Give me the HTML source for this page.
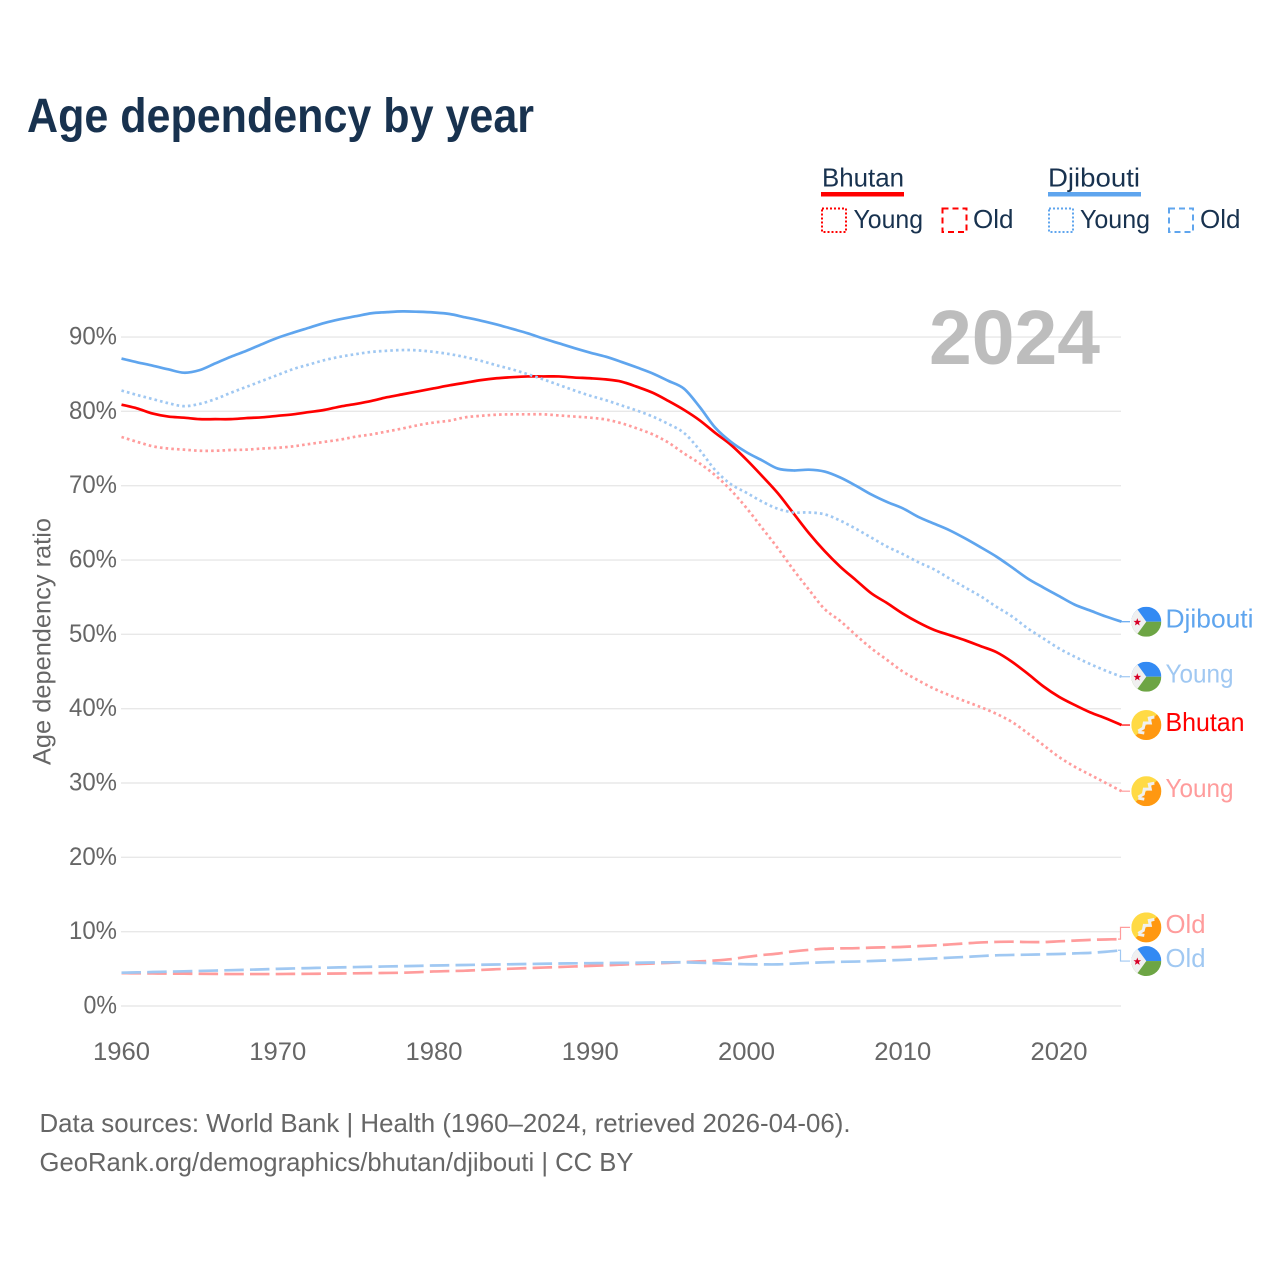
<!DOCTYPE html>
<html lang="en">
<head>
<meta charset="utf-8">
<title>Age dependency by year</title>
<style>
html,body{margin:0;padding:0;background:#fff;}
svg{display:block;font-family:"Liberation Sans",sans-serif;}
</style>
</head>
<body>
<svg id="chart" xmlns="http://www.w3.org/2000/svg" width="1280" height="1280" viewBox="0 0 1280 1280">
  <defs>
    <clipPath id="flag-clip"><circle cx="0" cy="0" r="15"/></clipPath>
    <g id="flag-djibouti" clip-path="url(#flag-clip)">
      <rect x="-15" y="-15" width="30" height="15" fill="#338af3"/>
      <rect x="-15" y="0" width="30" height="15" fill="#6da544"/>
      <polygon points="-16,-22 0,0 -16,22" fill="#f0f0f0"/>
      <polygon points="-9,-3.6 -8,-0.8 -5.2,-0.8 -7.4,1 -6.6,3.8 -9,2.2 -11.4,3.8 -10.6,1 -12.8,-0.8 -10,-0.8" fill="#d80027"/>
    </g>
    <g id="flag-bhutan" clip-path="url(#flag-clip)">
      <rect x="-15" y="-15" width="30" height="30" fill="#ffda44"/>
      <polygon points="15,-15 15,15 -15,15" fill="#ff9811"/>
      <path d="M8,-8 L3,-7 L4,-2 L-2,-2 L-3,3 L-8,6 M-8,7 L-2,8" fill="none" stroke="#f0f0f0" stroke-width="3"/>
    </g>
  </defs>

  <text x="27" y="132" font-size="48" font-weight="700" fill="#18324f" textLength="507" lengthAdjust="spacingAndGlyphs">Age dependency by year</text>

  <g id="grid"></g>
  <g id="y-axis"></g>
  <g id="x-axis"></g>

  <text transform="translate(50.5 765) rotate(-90)" font-size="25" fill="#666" textLength="247" lengthAdjust="spacingAndGlyphs">Age dependency ratio</text>

  <g id="series"></g>
  <g id="end-labels"></g>

  <text x="929" y="364" font-size="77" font-weight="700" fill="#bdbdbd" textLength="171" lengthAdjust="spacingAndGlyphs">2024</text>

  <g>
    <g>
      <text x="822" y="186.5" font-size="26" fill="#18324f" textLength="82" lengthAdjust="spacingAndGlyphs">Bhutan</text>
      <rect x="821" y="192" width="83" height="4.5" fill="#ff0000"/>
      <rect x="822" y="208.5" width="24" height="23.5" fill="none" stroke="#ff0000" stroke-width="2" stroke-dasharray="2 2"/>
      <text x="853.5" y="228" font-size="26" fill="#18324f" textLength="69.5" lengthAdjust="spacingAndGlyphs">Young</text>
      <rect x="942.5" y="208.5" width="24" height="23.5" fill="none" stroke="#ff0000" stroke-width="2" stroke-dasharray="6 4"/>
      <text x="973" y="228" font-size="26" fill="#18324f" textLength="40.5" lengthAdjust="spacingAndGlyphs">Old</text>
    </g>
    <g>
      <text x="1048" y="186.5" font-size="26" fill="#18324f" textLength="92" lengthAdjust="spacingAndGlyphs">Djibouti</text>
      <rect x="1048" y="192" width="93" height="4.5" fill="#5fa5ee"/>
      <rect x="1049" y="208.5" width="24" height="23.5" fill="none" stroke="#5fa5ee" stroke-width="2" stroke-dasharray="2 2"/>
      <text x="1080" y="228" font-size="26" fill="#18324f" textLength="70" lengthAdjust="spacingAndGlyphs">Young</text>
      <rect x="1169" y="208.5" width="24" height="23.5" fill="none" stroke="#5fa5ee" stroke-width="2" stroke-dasharray="6 4"/>
      <text x="1200" y="228" font-size="26" fill="#18324f" textLength="40.5" lengthAdjust="spacingAndGlyphs">Old</text>
    </g>
  </g>

  <text x="39.5" y="1132" font-size="26" fill="#666" textLength="811" lengthAdjust="spacingAndGlyphs">Data sources: World Bank | Health (1960–2024, retrieved 2026-04-06).</text>
  <text x="39.5" y="1171" font-size="26" fill="#666" textLength="594" lengthAdjust="spacingAndGlyphs">GeoRank.org/demographics/bhutan/djibouti | CC BY</text>
</svg>

<script>
const startYear = 1960;
const xTickYears = [1960, 1970, 1980, 1990, 2000, 2010, 2020];
const yTickValues = [0, 10, 20, 30, 40, 50, 60, 70, 80, 90];

const bhutanTotal = [
  80.9,80.4,79.7,79.3,79.15,78.95,78.95,78.95,79.1,79.2,
  79.4,79.6,79.9,80.2,80.65,81.0,81.4,81.9,82.3,82.7,
  83.1,83.5,83.85,84.2,84.45,84.6,84.7,84.7,84.7,84.55,
  84.45,84.3,84.0,83.3,82.5,81.4,80.2,78.8,77.1,75.5,
  73.5,71.3,69.0,66.3,63.6,61.2,59.1,57.3,55.5,54.2,
  52.8,51.6,50.6,49.9,49.2,48.4,47.6,46.3,44.7,43.0,
  41.6,40.5,39.5,38.7,37.8];
const bhutanYoung = [
  76.55,75.9,75.3,75.0,74.85,74.7,74.7,74.8,74.85,75.0,
  75.1,75.3,75.6,75.9,76.2,76.6,76.9,77.3,77.7,78.15,
  78.5,78.75,79.2,79.4,79.55,79.6,79.6,79.6,79.45,79.3,
  79.15,78.9,78.4,77.7,76.9,75.8,74.35,73.0,71.4,69.4,
  67.0,64.3,61.6,58.7,56.0,53.4,51.8,49.9,48.1,46.55,
  45.0,43.8,42.7,41.8,41.0,40.2,39.3,38.2,36.7,35.1,
  33.5,32.2,31.1,30.0,28.9];
const bhutanOld = [
  4.42,4.4,4.38,4.36,4.35,4.33,4.32,4.3,4.3,4.3,
  4.3,4.32,4.33,4.35,4.37,4.4,4.42,4.45,4.48,4.55,
  4.65,4.7,4.75,4.85,4.95,5.02,5.1,5.17,5.25,5.32,
  5.4,5.48,5.57,5.65,5.72,5.8,5.9,6.0,6.12,6.3,
  6.6,6.85,7.05,7.35,7.55,7.7,7.75,7.78,7.85,7.9,
  7.95,8.05,8.15,8.28,8.42,8.55,8.62,8.65,8.6,8.6,
  8.7,8.8,8.9,8.95,9.0];
const djiboutiTotal = [
  87.1,86.6,86.15,85.65,85.2,85.55,86.45,87.35,88.15,89.05,
  89.9,90.6,91.25,91.9,92.4,92.8,93.2,93.35,93.45,93.4,
  93.3,93.1,92.65,92.2,91.7,91.1,90.5,89.8,89.15,88.5,
  87.9,87.35,86.65,85.9,85.1,84.1,83.05,80.6,77.8,75.9,
  74.5,73.4,72.3,72.05,72.15,71.9,71.1,70.0,68.8,67.8,
  66.96,65.8,64.9,64.0,62.9,61.7,60.45,59.0,57.5,56.3,
  55.15,54.0,53.2,52.4,51.7];
const djiboutiYoung = [
  82.8,82.2,81.65,81.1,80.7,81.0,81.65,82.5,83.3,84.1,
  84.9,85.7,86.3,86.9,87.35,87.7,88.0,88.15,88.25,88.2,
  88.0,87.7,87.3,86.8,86.2,85.65,85.0,84.3,83.55,82.8,
  82.1,81.5,80.8,80.1,79.3,78.3,77.1,74.8,72.1,70.2,
  69.05,67.85,66.9,66.4,66.4,66.15,65.3,64.2,63.0,61.8,
  60.8,59.7,58.75,57.5,56.3,55.1,53.7,52.4,50.8,49.45,
  48.1,47.0,46.0,45.1,44.3];
const djiboutiOld = [
  4.48,4.52,4.57,4.62,4.67,4.72,4.77,4.82,4.87,4.93,
  5.0,5.05,5.1,5.15,5.2,5.24,5.28,5.32,5.36,5.4,
  5.45,5.48,5.52,5.55,5.58,5.62,5.65,5.68,5.72,5.74,
  5.76,5.78,5.8,5.82,5.85,5.88,5.88,5.82,5.75,5.68,
  5.62,5.6,5.6,5.7,5.8,5.88,5.94,5.98,6.05,6.13,
  6.2,6.3,6.4,6.5,6.6,6.72,6.82,6.87,6.9,6.95,
  7.0,7.08,7.15,7.3,7.5];

const NS = 'http://www.w3.org/2000/svg';
const xScale = function (year) { return 121.5 + (year - startYear) * 15.625; };
const yScale = function (value) { return 1006 - value * 7.433; };

function make(tag, parent, attrs) {
  const el = document.createElementNS(NS, tag);
  Object.keys(attrs).forEach(function (k) { el.setAttribute(k, attrs[k]); });
  parent.appendChild(el);
  return el;
}

const gridGroup = document.getElementById('grid');
const yAxisGroup = document.getElementById('y-axis');
const xAxisGroup = document.getElementById('x-axis');
const seriesGroup = document.getElementById('series');
const labelGroup = document.getElementById('end-labels');

yTickValues.forEach(function (v) {
  const line = make('line', gridGroup, {x1: 121, x2: 1121, y1: yScale(v), y2: yScale(v), stroke: '#e8e8e8', 'stroke-width': 1.4});
  
  
  const text = v + '%';
  const w = (text.length - 1) * 14.5 + 19;
  const label = make('text', yAxisGroup, {x: 117 - w, y: yScale(v) + 7.5, 'font-size': 25, fill: '#666', textLength: w, lengthAdjust: 'spacingAndGlyphs'});
  label.textContent = text;
  
  
});

xTickYears.forEach(function (year) {
  const label = make('text', xAxisGroup, {x: xScale(year) - 28.5, y: 1060, 'font-size': 25, fill: '#666', textLength: 57, lengthAdjust: 'spacingAndGlyphs'});
  label.textContent = String(year);
  
  
});

function pathFor(values) {
  const pts = values.map(function (v, i) { return [xScale(startYear + i), yScale(v)]; });
  let d = 'M' + pts[0][0].toFixed(2) + ',' + pts[0][1].toFixed(2);
  for (let i = 0; i < pts.length - 1; i++) {
    const p0 = pts[Math.max(i - 1, 0)], p1 = pts[i], p2 = pts[i + 1], p3 = pts[Math.min(i + 2, pts.length - 1)];
    const c1x = p1[0] + (p2[0] - p0[0]) / 6, c1y = p1[1] + (p2[1] - p0[1]) / 6;
    const c2x = p2[0] - (p3[0] - p1[0]) / 6, c2y = p2[1] - (p3[1] - p1[1]) / 6;
    d += ' C' + c1x.toFixed(2) + ',' + c1y.toFixed(2) + ' ' + c2x.toFixed(2) + ',' + c2y.toFixed(2) + ' ' + p2[0].toFixed(2) + ',' + p2[1].toFixed(2);
  }
  return d;
}

const lastYear = startYear + bhutanTotal.length - 1;

function drawSeries(name, values, color, dash) {
  const attrs = {d: pathFor(values), fill: 'none', stroke: color, 'stroke-width': 2.7, 'stroke-linejoin': 'round'};
  if (dash) attrs['stroke-dasharray'] = dash;
  const p = make('path', seriesGroup, attrs);
  
  
}

function drawEndLabel(name, text, values, color, flag, nudge, labelWidth) {
  const yEnd = yScale(values[values.length - 1]);
  const yLabel = yEnd + nudge;
  const xEnd = xScale(lastYear);
  const d = nudge === 0
    ? 'M' + xEnd + ',' + yEnd + ' L1130,' + yLabel
    : 'M1118,' + yEnd + ' L1120.5,' + yEnd + ' L1120.5,' + yLabel + ' L1130,' + yLabel;
  const conn = make('path', labelGroup, {d: d, fill: 'none', stroke: color, 'stroke-width': 1.2});
  
  
  const icon = make('use', labelGroup, {href: '#' + flag, transform: 'translate(1146.3 ' + yLabel + ')'});
  
  
  const label = make('text', labelGroup, {x: 1165.5, y: yLabel + 5.8, 'font-size': 26, fill: color, textLength: labelWidth, lengthAdjust: 'spacingAndGlyphs'});
  label.textContent = text;
  
  
}

const RED = '#ff0000', RED_LIGHT = '#ff9c9c', BLUE = '#5fa5ee', BLUE_LIGHT = '#a0c8f2';
const DOT = '2.6 3.1', DASH = '19.5 6.2';

drawSeries('bhutan-old-line', bhutanOld, RED_LIGHT, DASH);
drawSeries('bhutan-young-line', bhutanYoung, RED_LIGHT, DOT);
drawSeries('bhutan-total-line', bhutanTotal, RED, null);
drawSeries('djibouti-old-line', djiboutiOld, BLUE_LIGHT, DASH);
drawSeries('djibouti-young-line', djiboutiYoung, BLUE_LIGHT, DOT);
drawSeries('djibouti-total-line', djiboutiTotal, BLUE, null);

drawEndLabel('djibouti-total', 'Djibouti', djiboutiTotal, BLUE, 'flag-djibouti', 0, 88);
drawEndLabel('djibouti-young', 'Young', djiboutiYoung, BLUE_LIGHT, 'flag-djibouti', 0, 68);
drawEndLabel('bhutan-total', 'Bhutan', bhutanTotal, RED, 'flag-bhutan', 0, 79);
drawEndLabel('bhutan-young', 'Young', bhutanYoung, RED_LIGHT, 'flag-bhutan', 0, 68);
drawEndLabel('bhutan-old', 'Old', bhutanOld, RED_LIGHT, 'flag-bhutan', -11.7, 40);
drawEndLabel('djibouti-old', 'Old', djiboutiOld, BLUE_LIGHT, 'flag-djibouti', 10.8, 40);
</script>
</body>
</html>
